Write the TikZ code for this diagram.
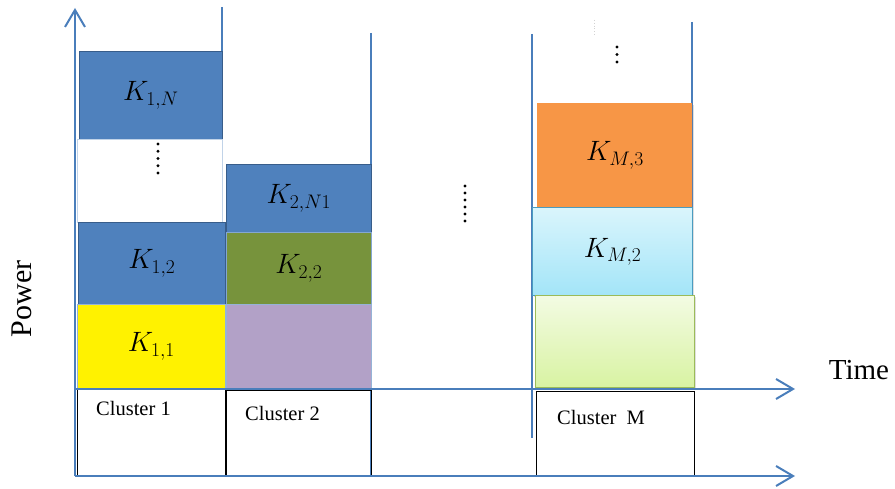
\RequirePackage{fix-cm}
\documentclass[tikz,border=0pt]{standalone}
\usepackage{fontspec}
\setmainfont{Liberation Serif}
\usetikzlibrary{arrows.meta,shadows}
\definecolor{axisblue}{HTML}{4A7EBB}
\definecolor{boxblue}{HTML}{4F81BD}
\definecolor{boxedge}{HTML}{385D8A}
\definecolor{olive}{HTML}{77933C}
\definecolor{lilac}{HTML}{B2A1C7}
\definecolor{orangebox}{HTML}{F79646}
\definecolor{skytop}{HTML}{DAF5FC}
\definecolor{skybot}{HTML}{A3E5F8}
\definecolor{skyedge}{HTML}{4A9CC0}
\definecolor{limetop}{HTML}{F3FBE3}
\definecolor{limebot}{HTML}{D8F3A2}
\definecolor{limeedge}{HTML}{9BBB59}
\begin{document}
\begin{tikzpicture}[x=1pt,y=-1pt,
  cell/.style={draw=boxedge, line width=0.8pt, inner sep=0pt, anchor=north west,
    font=\fontsize{28}{32}\selectfont},
  clusterbox/.style={draw=black, line width=1.2pt, inner sep=0pt, anchor=north west},
  clusterlabel/.style={anchor=west, inner sep=0pt, font=\fontsize{20.5}{24}\selectfont},
  guide/.style={draw=axisblue, line width=1.4pt},
  axis/.style={draw=axisblue, line width=2pt, -{Straight Barb[length=17pt,width=20pt,line width=2pt]}},
  softshadow/.style={drop shadow={opacity=0.25, shadow xshift=1.5pt, shadow yshift=-1.5pt}},
  dot/.style={fill=black}
]
\useasboundingbox (0,0) rectangle (895,489);

% column guide lines
\coordinate (g1a) at (222,7);   \coordinate (g1b) at (222,388);
\coordinate (g2a) at (371,33);  \coordinate (g2b) at (371,475);
\coordinate (g3a) at (532,34);  \coordinate (g3b) at (532,438);
\coordinate (g4a) at (692,22);  \coordinate (g4b) at (692,388);
\draw[guide] (g1a) -- (g1b);
\draw[guide] (g2a) -- (g2b);
\draw[guide] (g3a) -- (g3b);
\draw[guide] (g4a) -- (g4b);
\draw[gray!35, line width=0.8pt, dotted] (594,20) -- (594,35);

% cluster 1
\node[cell, fill=boxblue, minimum width=143pt, minimum height=88pt] (k1n) at (79,51) {$K_{1,N}$};
\node[cell, draw=boxblue!35, fill=white, minimum width=145pt, minimum height=83pt] (gap1) at (77,139) {};
\node[cell, fill=boxblue, minimum width=147pt, minimum height=82pt] (k12) at (78,222) {$K_{1,2}$};
\node[cell, draw=boxblue!60, fill=yellow, minimum width=148pt, minimum height=84pt] (k11) at (77,304) {$K_{1,1}$};
\node[clusterbox, minimum width=148pt, minimum height=86pt] (c1) at (77,389) {};
\node[clusterlabel] (c1l) at (96,408) {Cluster 1};

% cluster 2
\node[cell, fill=boxblue, minimum width=145pt, minimum height=68pt] (k2n) at (226,164) {$K_{2,N1}$};
\node[cell, draw=boxblue!70, fill=olive, minimum width=145pt, minimum height=72pt] (k22) at (226,232) {$K_{2,2}$};
\node[cell, draw=boxblue!60, fill=lilac, minimum width=145pt, minimum height=84pt] (k21) at (226,304) {};
\node[clusterbox, minimum width=145pt, minimum height=85pt] (c2) at (226,390) {};
\node[clusterlabel] (c2l) at (245,413) {Cluster 2};

% cluster M
\node[cell, draw=none, fill=orangebox, softshadow, minimum width=155pt, minimum height=104pt] (km3) at (537,103) {$K_{M,3}$};
\node[cell, draw=skyedge, line width=1.2pt, top color=skytop, bottom color=skybot, softshadow,
      minimum width=160pt, minimum height=88pt] (km2) at (532,207) {$K_{M,2}$};
\node[cell, draw=limeedge, line width=1.2pt, top color=limetop, bottom color=limebot, softshadow,
      minimum width=159pt, minimum height=92pt] (km1) at (535,295) {};
\node[clusterbox, minimum width=158pt, minimum height=85pt] (cm) at (536,391) {};
\node[clusterlabel] (cml) at (557,417) {Cluster\ \ M};

% ellipses
\foreach \i in {0,...,4} \fill[dot] (158,144+7.25*\i) circle (1.6);
\foreach \i in {0,...,5} \fill[dot] (465,186+7*\i) circle (1.6);
\foreach \i in {0,...,2} \fill[dot] (617,47+7.5*\i) circle (1.6);

% axes
\coordinate (origin) at (75,476);
\coordinate (ytip) at (75,8);
\coordinate (t0) at (75,389);
\coordinate (ttip) at (795,389);
\coordinate (btip) at (795,476);
\draw[axis] (origin) -- (ytip);
\draw[axis] (t0) -- (ttip);
\draw[axis] (origin) -- (btip);

\node[inner sep=0pt, font=\fontsize{29}{32}\selectfont] (time) at (859,370) {Time};
\node[inner sep=0pt, rotate=90, font=\fontsize{30}{33}\selectfont] (power) at (22,299) {Power};
\end{tikzpicture}
\end{document}
